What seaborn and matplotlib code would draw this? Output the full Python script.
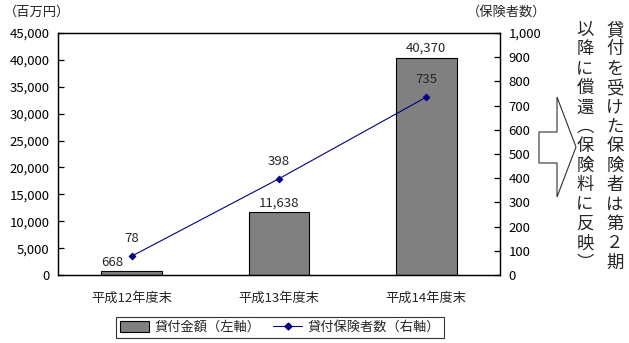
import matplotlib
matplotlib.use("Agg")
import matplotlib.pyplot as plt
from matplotlib.patches import Polygon, Patch
from matplotlib.lines import Line2D
import seaborn as sns
import pandas as pd

# Data
periods = ["平成12年度末", "平成13年度末", "平成14年度末"]
loan_amount = [668, 11638, 40370]        # 百万円 (left axis)
insurer_count = [78, 398, 735]           # 保険者数 (right axis)
left_ticks = list(range(0, 45001, 5000))
right_ticks = list(range(0, 1001, 100))

note_col1 = "貸付を受けた保険者は第２期"
note_col2 = "以降に償還︵保険料に反映︶"

sns.set_theme(style="white")
plt.rcParams["font.family"] = ["Noto Sans CJK JP", "DejaVu Sans"]
plt.rcParams["font.size"] = 9.5

df = pd.DataFrame({"period": periods, "amount": loan_amount, "count": insurer_count})

fig = plt.figure(figsize=(6.29, 3.43), dpi=100)
ax = fig.add_axes([0.0922, 0.198, 0.7027, 0.706])
ax2 = ax.twinx()

sns.barplot(data=df, x="period", y="amount", ax=ax, color="#808080",
            edgecolor="black", linewidth=0.8, width=0.41, saturation=1)
sns.pointplot(data=df, x="period", y="count", ax=ax2, color="#000080",
              markers="D", markersize=3.5, linewidth=0.8)

ax.set_xlim(-0.5, 2.5)
ax.set_ylim(0, 45000)
ax2.set_ylim(0, 1000)
ax.set_yticks(left_ticks)
ax.set_yticklabels([f"{v:,}" for v in left_ticks])
ax2.set_yticks(right_ticks)
ax2.set_yticklabels([f"{v:,}" for v in right_ticks])
ax.set_xlabel("")
ax.set_ylabel("")
ax2.set_ylabel("")
ax2.set_xlabel("")

for a in (ax, ax2):
    for s in a.spines.values():
        s.set_color("black")
        s.set_linewidth(0.9)
    a.tick_params(axis="y", direction="in", length=4, width=0.9, colors="black",
                  labelsize=9.5, pad=6)
ax.tick_params(axis="x", length=0, labelsize=9.5, pad=12)
ax2.tick_params(axis="x", length=0)

# Value labels: bar totals (the first one nudged left, clear of the marker)
bar_dx = [-14, 0, 0]
for i, v in enumerate(loan_amount):
    ax.annotate(f"{v:,}", (i, v), xytext=(bar_dx[i], 2), textcoords="offset points",
                ha="center", va="bottom", fontsize=9.5)
for i, v in enumerate(insurer_count):
    ax2.annotate(f"{v:,}", (i, v), xytext=(0, 8), textcoords="offset points",
                 ha="center", va="bottom", fontsize=9.5)

# Axis unit captions
fig.text(0.006, 0.965, "（百万円）", ha="left", va="center", fontsize=9.5)
fig.text(0.742, 0.965, "（保険者数）", ha="left", va="center", fontsize=9.5)

# Legend
handles = [
    Patch(facecolor="#808080", edgecolor="black", linewidth=0.8),
    Line2D([0], [0], color="#000080", marker="D", markersize=3.5, linewidth=0.8),
]
leg = fig.legend(handles, ["貸付金額（左軸）", "貸付保険者数（右軸）"],
                 loc="center", bbox_to_anchor=(0.445, 0.045), ncol=2,
                 frameon=True, fancybox=False, edgecolor="black",
                 fontsize=9.5, handlelength=2.2, handleheight=0.8,
                 columnspacing=1.0, handletextpad=0.4, borderpad=0.3,
                 borderaxespad=0)
leg.get_frame().set_linewidth(0.8)

# Block arrow pointing at the note
W, H = 629, 343
pts = [(539, 132), (557, 132), (557, 97), (576, 147), (557, 197), (557, 163), (539, 163)]
arrow = Polygon([(x / W, 1 - y / H) for x, y in pts], closed=True,
                transform=fig.transFigure, facecolor="white",
                edgecolor="#303030", linewidth=0.8)
fig.patches.append(arrow)

# Vertical note text
for xpix, col in ((615, note_col1), (585, note_col2)):
    fig.text(xpix / W, 1 - 21 / H, "\n".join(col), ha="center", va="top",
             fontsize=12.5, linespacing=1.1)

fig.savefig("out.png", dpi=100)
